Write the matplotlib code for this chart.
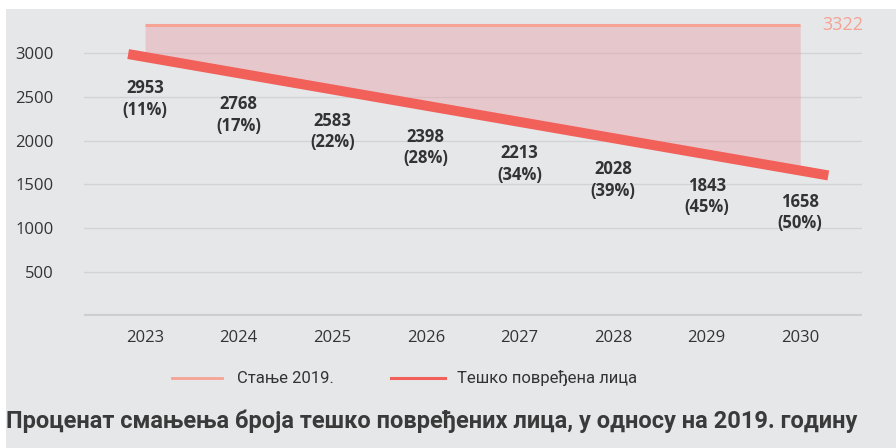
# Projected seriously injured persons 2023-2030 vs 2019 baseline

import numpy as np
import matplotlib.pyplot as plt
from matplotlib.patches import Rectangle

# data
years = ['2023', '2024', '2025', '2026', '2027', '2028', '2029', '2030']
injured = [2953, 2768, 2583, 2398, 2213, 2028, 1843, 1658]
reduction = ['11%', '17%', '22%', '28%', '34%', '39%', '45%', '50%']
baseline_2019 = 3322
y_ticks = [500, 1000, 1500, 2000, 2500, 3000]

legend_labels = ['Стање 2019.', 'Тешко повређена лица']
title = 'Проценат смањења броја тешко повређених лица, у односу на 2019. годину'

# colours
bg = '#e6e7e9'
text_col = '#333333'
line_col = '#f2605a'
base_col = '#f6a294'
fill_col = '#e88f98'
grid_col = '#d2d3d6'

plt.rcParams['font.family'] = ['Open Sans', 'DejaVu Sans']
narrow = ['Roboto', 'DejaVu Sans']

fig = plt.figure(figsize=(8.96, 4.48), dpi=100, facecolor='white')
# gray panel behind everything
fig.patches.append(Rectangle((6/896, 0), 1 - 6/896, 1 - 9/448, transform=fig.transFigure,
                             facecolor=bg, edgecolor='none', zorder=-10))

ax = fig.add_axes([84/896, 132/448, 778/896, 307/448])
ax.set_facecolor('none')

x = np.arange(len(years))
y = np.array(injured, dtype=float)

ax.set_xlim(-0.652, 7.66)
ax.set_ylim(0, 3500)

# grid
for t in y_ticks:
    ax.axhline(t, color=grid_col, lw=1, zorder=1)
ax.axhline(0, color='#cdced1', lw=3, zorder=1)

# baseline area and line
ax.fill_between(x, y, baseline_2019, color=fill_col, alpha=0.35, lw=0, zorder=2)
ax.plot([x[0], x[-1]], [baseline_2019, baseline_2019], color=base_col, lw=2.2,
        solid_capstyle='butt', zorder=3)
ax.text(x[-1] + 0.24, baseline_2019, str(baseline_2019), color=base_col, fontsize=13,
        ha='left', va='center')

# main line, slightly extended past the first and last year
ext_l, ext_r = 0.18, 0.3
x_line = np.r_[x[0] - ext_l, x, x[-1] + ext_r]
y_line = np.r_[y[0] - ext_l * (y[1] - y[0]), y, y[-1] + ext_r * (y[-1] - y[-2])]
ax.plot(x_line, y_line, color=line_col, lw=7.2, solid_capstyle='butt', zorder=4)

# value labels
for xi, v, p in zip(x, injured, reduction):
    ax.annotate(f'{v}\n({p})', (xi, v), xytext=(0, -16), textcoords='offset points',
                ha='center', va='top', fontsize=12, fontweight='bold', color=text_col,
                linespacing=1.25, zorder=5)

ax.set_xticks(x)
ax.set_xticklabels(years)
ax.set_yticks(y_ticks)
ax.tick_params(length=0, labelsize=12, colors=text_col)
ax.tick_params(axis='x', pad=10)
ax.tick_params(axis='y', pad=22)
for s in ax.spines.values():
    s.set_visible(False)

# legend drawn by hand below the axes
fig.lines.append(plt.Line2D([172/896, 222/896], [1 - 378/448] * 2, transform=fig.transFigure,
                            color=base_col, lw=2.0))
fig.text(237/896, 1 - 378/448, legend_labels[0], ha='left', va='center', fontsize=12,
         color=text_col, family=narrow)
fig.lines.append(plt.Line2D([391/896, 445/896], [1 - 378/448] * 2, transform=fig.transFigure,
                            color=line_col, lw=2.2))
fig.text(457/896, 1 - 378/448, legend_labels[1], ha='left', va='center', fontsize=12,
         color=text_col, family=narrow)

fig.text(6/896, 1 - 421/448, title, ha='left', va='center', fontsize=17, fontweight='bold',
         color='#3a3a3a', family=narrow)

plt.savefig('out.png', dpi=100, facecolor=fig.get_facecolor())
